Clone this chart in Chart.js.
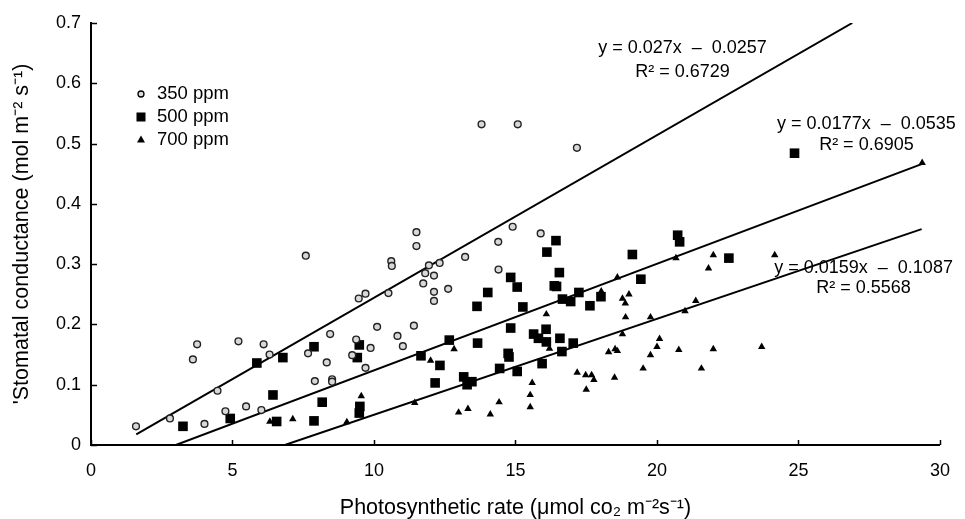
<!DOCTYPE html>
<html>
<head>
<meta charset="utf-8">
<script src="https://cdn.jsdelivr.net/npm/chart.js@4/dist/chart.umd.min.js"></script>
<style>
  html, body { margin: 0; padding: 0; background: #fff; }
</style>
</head>
<body>
<canvas id="chart" width="965" height="519"></canvas>
<script>
// 350 ppm (open circles)
const x350 = [1.59, 2.79, 3.75, 3.6, 4.01, 4.47, 4.75, 5.21, 5.48, 6.1, 6.31, 6.02, 7.67, 7.91, 7.59,
  13.8, 15.08, 17.17, 11.5, 11.5, 10.61, 10.63, 11.94, 12.32, 11.81, 12.12, 13.22, 14.39, 14.9, 14.4,
  11.74, 12.12, 12.12, 12.62, 9.46, 9.7, 10.51, 8.45, 8.33, 8.52, 8.52, 10.11, 10.83, 11.41, 11.02,
  9.37, 9.23, 9.88, 9.7, 15.89];
const y350 = [0.031, 0.044, 0.167, 0.142, 0.035, 0.090, 0.056, 0.172, 0.064, 0.167, 0.150, 0.058, 0.152, 0.106, 0.314,
  0.532, 0.532, 0.493, 0.353, 0.330, 0.305, 0.297, 0.298, 0.302, 0.285, 0.281, 0.312, 0.337, 0.362, 0.291,
  0.268, 0.254, 0.239, 0.259, 0.243, 0.251, 0.252, 0.184, 0.137, 0.109, 0.105, 0.196, 0.181, 0.198, 0.164,
  0.175, 0.149, 0.161, 0.128, 0.351];

// 500 ppm (filled squares)
const x500 = [3.25, 4.92, 5.86, 6.78, 6.43, 6.56, 7.88, 7.88, 8.17, 9.48, 9.41, 9.5, 9.48,
  11.66, 12.66, 12.33, 12.16, 13.66, 13.64, 14.02, 14.83, 15.06, 15.26, 14.83, 14.74, 14.77, 14.44, 15.06,
  13.17, 13.29, 13.46, 16.43, 16.11, 19.13, 20.73, 20.8, 22.54, 16.55, 16.37, 16.45, 19.43, 17.24, 18.02,
  16.66, 16.95, 17.63, 15.64, 15.81, 16.08, 16.09, 16.57, 17.04, 16.64, 15.94, 24.86];
const y500 = [0.031, 0.044, 0.136, 0.145, 0.083, 0.039, 0.163, 0.040, 0.071, 0.166, 0.145, 0.064, 0.053,
  0.148, 0.174, 0.132, 0.103, 0.169, 0.230, 0.253, 0.278, 0.262, 0.229, 0.194, 0.152, 0.146, 0.127, 0.122,
  0.113, 0.100, 0.105, 0.339, 0.320, 0.316, 0.348, 0.337, 0.310, 0.286, 0.264, 0.263, 0.275, 0.253, 0.246,
  0.242, 0.238, 0.231, 0.184, 0.177, 0.192, 0.171, 0.177, 0.169, 0.155, 0.135, 0.484];

// 700 ppm (filled triangles)
const x700 = [6.32, 7.13, 12.83, 12.0, 9.55, 9.04, 11.44, 12.99, 13.32, 14.11, 14.42, 18.6, 18.03, 19.01,
  18.78, 18.88, 20.67, 21.99, 21.82, 21.37, 16.09, 16.2, 18.89, 19.77, 20.99, 18.78, 20.09, 20.0, 19.77,
  20.77, 21.99, 21.57, 19.51, 18.29, 18.52, 18.6, 18.5, 17.18, 17.48, 17.69, 17.77, 17.5, 15.59, 15.52,
  15.52, 29.37, 24.16, 23.7];
const y700 = [0.039, 0.043, 0.159, 0.140, 0.081, 0.038, 0.070, 0.054, 0.060, 0.051, 0.071, 0.278, 0.255, 0.250,
  0.243, 0.235, 0.310, 0.315, 0.293, 0.239, 0.217, 0.160, 0.212, 0.212, 0.222, 0.184, 0.176, 0.163, 0.149,
  0.158, 0.159, 0.127, 0.127, 0.154, 0.159, 0.156, 0.112, 0.120, 0.116, 0.116, 0.108, 0.092, 0.103, 0.083,
  0.063, 0.468, 0.315, 0.163];

// regression line end points (x, y)
const fit350x = [1.6, 26.9];
const fit350y = [0.0175, 0.700];
const fit500x = [3.0, 29.35];
const fit500y = [0.0, 0.466];
const fit700x = [6.85, 29.35];
const fit700y = [0.0, 0.358];

const seriesNames = ["350 ppm", "500 ppm", "700 ppm"];
const equations = ["y = 0.027x  \u2013  0.0257", "y = 0.0177x  \u2013  0.0535", "y = 0.0159x  \u2013  0.1087"];
const rSquared = ["R\u00B2 = 0.6729", "R\u00B2 = 0.6905", "R\u00B2 = 0.5568"];

const xTicks = [0, 5, 10, 15, 20, 25, 30];
const yTicks = [0, 0.1, 0.2, 0.3, 0.4, 0.5, 0.6, 0.7];

const FONT = "'Liberation Sans', Arial, sans-serif";

function pts(xs, ys) {
  return xs.map((x, i) => ({ x: x, y: ys[i] }));
}

function fitLine(xs, ys) {
  return {
    type: "line",
    data: pts(xs, ys),
    borderColor: "#000",
    borderWidth: 2,
    pointRadius: 0,
    showLine: true,
    fill: false
  };
}

// inward tick marks, legend and equation labels
const extras = {
  id: "extras",
  afterDraw(chart) {
    const ctx = chart.ctx;
    const xs = chart.scales.x, ys = chart.scales.y;
    const area = chart.chartArea;

    ctx.save();
    ctx.strokeStyle = "#000";
    ctx.lineWidth = 1.5;
    xTicks.forEach(v => {
      const px = Math.round(xs.getPixelForValue(v)) + 0.5;
      ctx.beginPath();
      ctx.moveTo(px, area.bottom);
      ctx.lineTo(px, area.bottom - 5);
      ctx.stroke();
    });
    yTicks.forEach(v => {
      const py = Math.round(ys.getPixelForValue(v)) + 0.5;
      ctx.beginPath();
      ctx.moveTo(area.left, py);
      ctx.lineTo(area.left + 6, py);
      ctx.stroke();
    });

    // legend
    const lx = 141, ly = [94, 117, 140];
    ctx.fillStyle = "#000";
    ctx.font = "18.5px " + FONT;
    ctx.textBaseline = "middle";
    ctx.textAlign = "left";
    seriesNames.forEach((name, i) => ctx.fillText(name, lx + 16, ly[i]));
    ctx.beginPath();
    ctx.arc(lx, ly[0], 3, 0, Math.PI * 2);
    ctx.fillStyle = "#ddd";
    ctx.fill();
    ctx.lineWidth = 1.3;
    ctx.stroke();
    ctx.fillStyle = "#000";
    ctx.fillRect(lx - 4.5, ly[1] - 4.5, 9, 9);
    ctx.beginPath();
    ctx.moveTo(lx, ly[2] - 4.5);
    ctx.lineTo(lx + 4, ly[2] + 2.5);
    ctx.lineTo(lx - 4, ly[2] + 2.5);
    ctx.closePath();
    ctx.fill();

    // equations
    const eqPos = [[20.9, 0.658, 0.619], [27.4, 0.533, 0.497], [27.3, 0.293, 0.261]];
    ctx.font = "18px " + FONT;
    ctx.textAlign = "center";
    eqPos.forEach((p, i) => {
      const px = xs.getPixelForValue(p[0]);
      ctx.fillText(equations[i], px, ys.getPixelForValue(p[1]));
      ctx.fillText(rSquared[i], px, ys.getPixelForValue(p[2]));
    });
    ctx.restore();
  }
};

new Chart(document.getElementById("chart"), {
  type: "scatter",
  data: {
    datasets: [
      {
        label: seriesNames[0],
        data: pts(x350, y350),
        pointStyle: "circle",
        pointRadius: 3.4,
        borderWidth: 1.4,
        borderColor: "#222",
        backgroundColor: "#d8d8d8"
      },
      {
        label: seriesNames[1],
        data: pts(x500, y500),
        pointStyle: "rect",
        pointRadius: 6.8,
        borderWidth: 0,
        borderColor: "#000",
        backgroundColor: "#000"
      },
      {
        label: seriesNames[2],
        data: pts(x700, y700),
        pointStyle: "triangle",
        pointRadius: 4.3,
        borderWidth: 0,
        borderColor: "#000",
        backgroundColor: "#000"
      },
      fitLine(fit350x, fit350y),
      fitLine(fit500x, fit500y),
      fitLine(fit700x, fit700y)
    ]
  },
  options: {
    responsive: false,
    animation: false,
    layout: { padding: { left: 0, right: 15, top: 23, bottom: 0 } },
    plugins: {
      legend: { display: false },
      tooltip: { enabled: false }
    },
    scales: {
      x: {
        type: "linear",
        min: 0,
        max: 30,
        afterFit: s => { s.height = 74; },
        afterBuildTicks: s => { s.ticks = xTicks.map(v => ({ value: v })); },
        grid: { drawOnChartArea: false, drawTicks: false },
        border: { display: true, color: "#000", width: 2 },
        ticks: { color: "#000", padding: 15, font: { size: 18, family: FONT } },
        title: {
          display: true,
          text: "Photosynthetic rate (\u03BCmol co\u2082 m\u207B\u00B2s\u207B\u00B9)",
          color: "#000",
          font: { size: 21.5, family: FONT, lineHeight: 1 },
          padding: { top: 0, bottom: 0.5 }
        }
      },
      y: {
        type: "linear",
        min: 0,
        max: 0.7,
        afterFit: s => { s.width = 91; },
        afterBuildTicks: s => { s.ticks = yTicks.map(v => ({ value: v })); },
        grid: { drawOnChartArea: false, drawTicks: false },
        border: { display: true, color: "#000", width: 2 },
        ticks: { color: "#000", padding: 10, font: { size: 18, family: FONT } },
        title: {
          display: true,
          text: "'Stomatal conductance (mol m\u207B\u00B2 s\u207B\u00B9)",
          color: "#000",
          font: { size: 21.5, family: FONT, lineHeight: 1 },
          padding: { top: 11, bottom: 0 }
        }
      }
    }
  },
  plugins: [extras]
});
</script>
</body>
</html>
